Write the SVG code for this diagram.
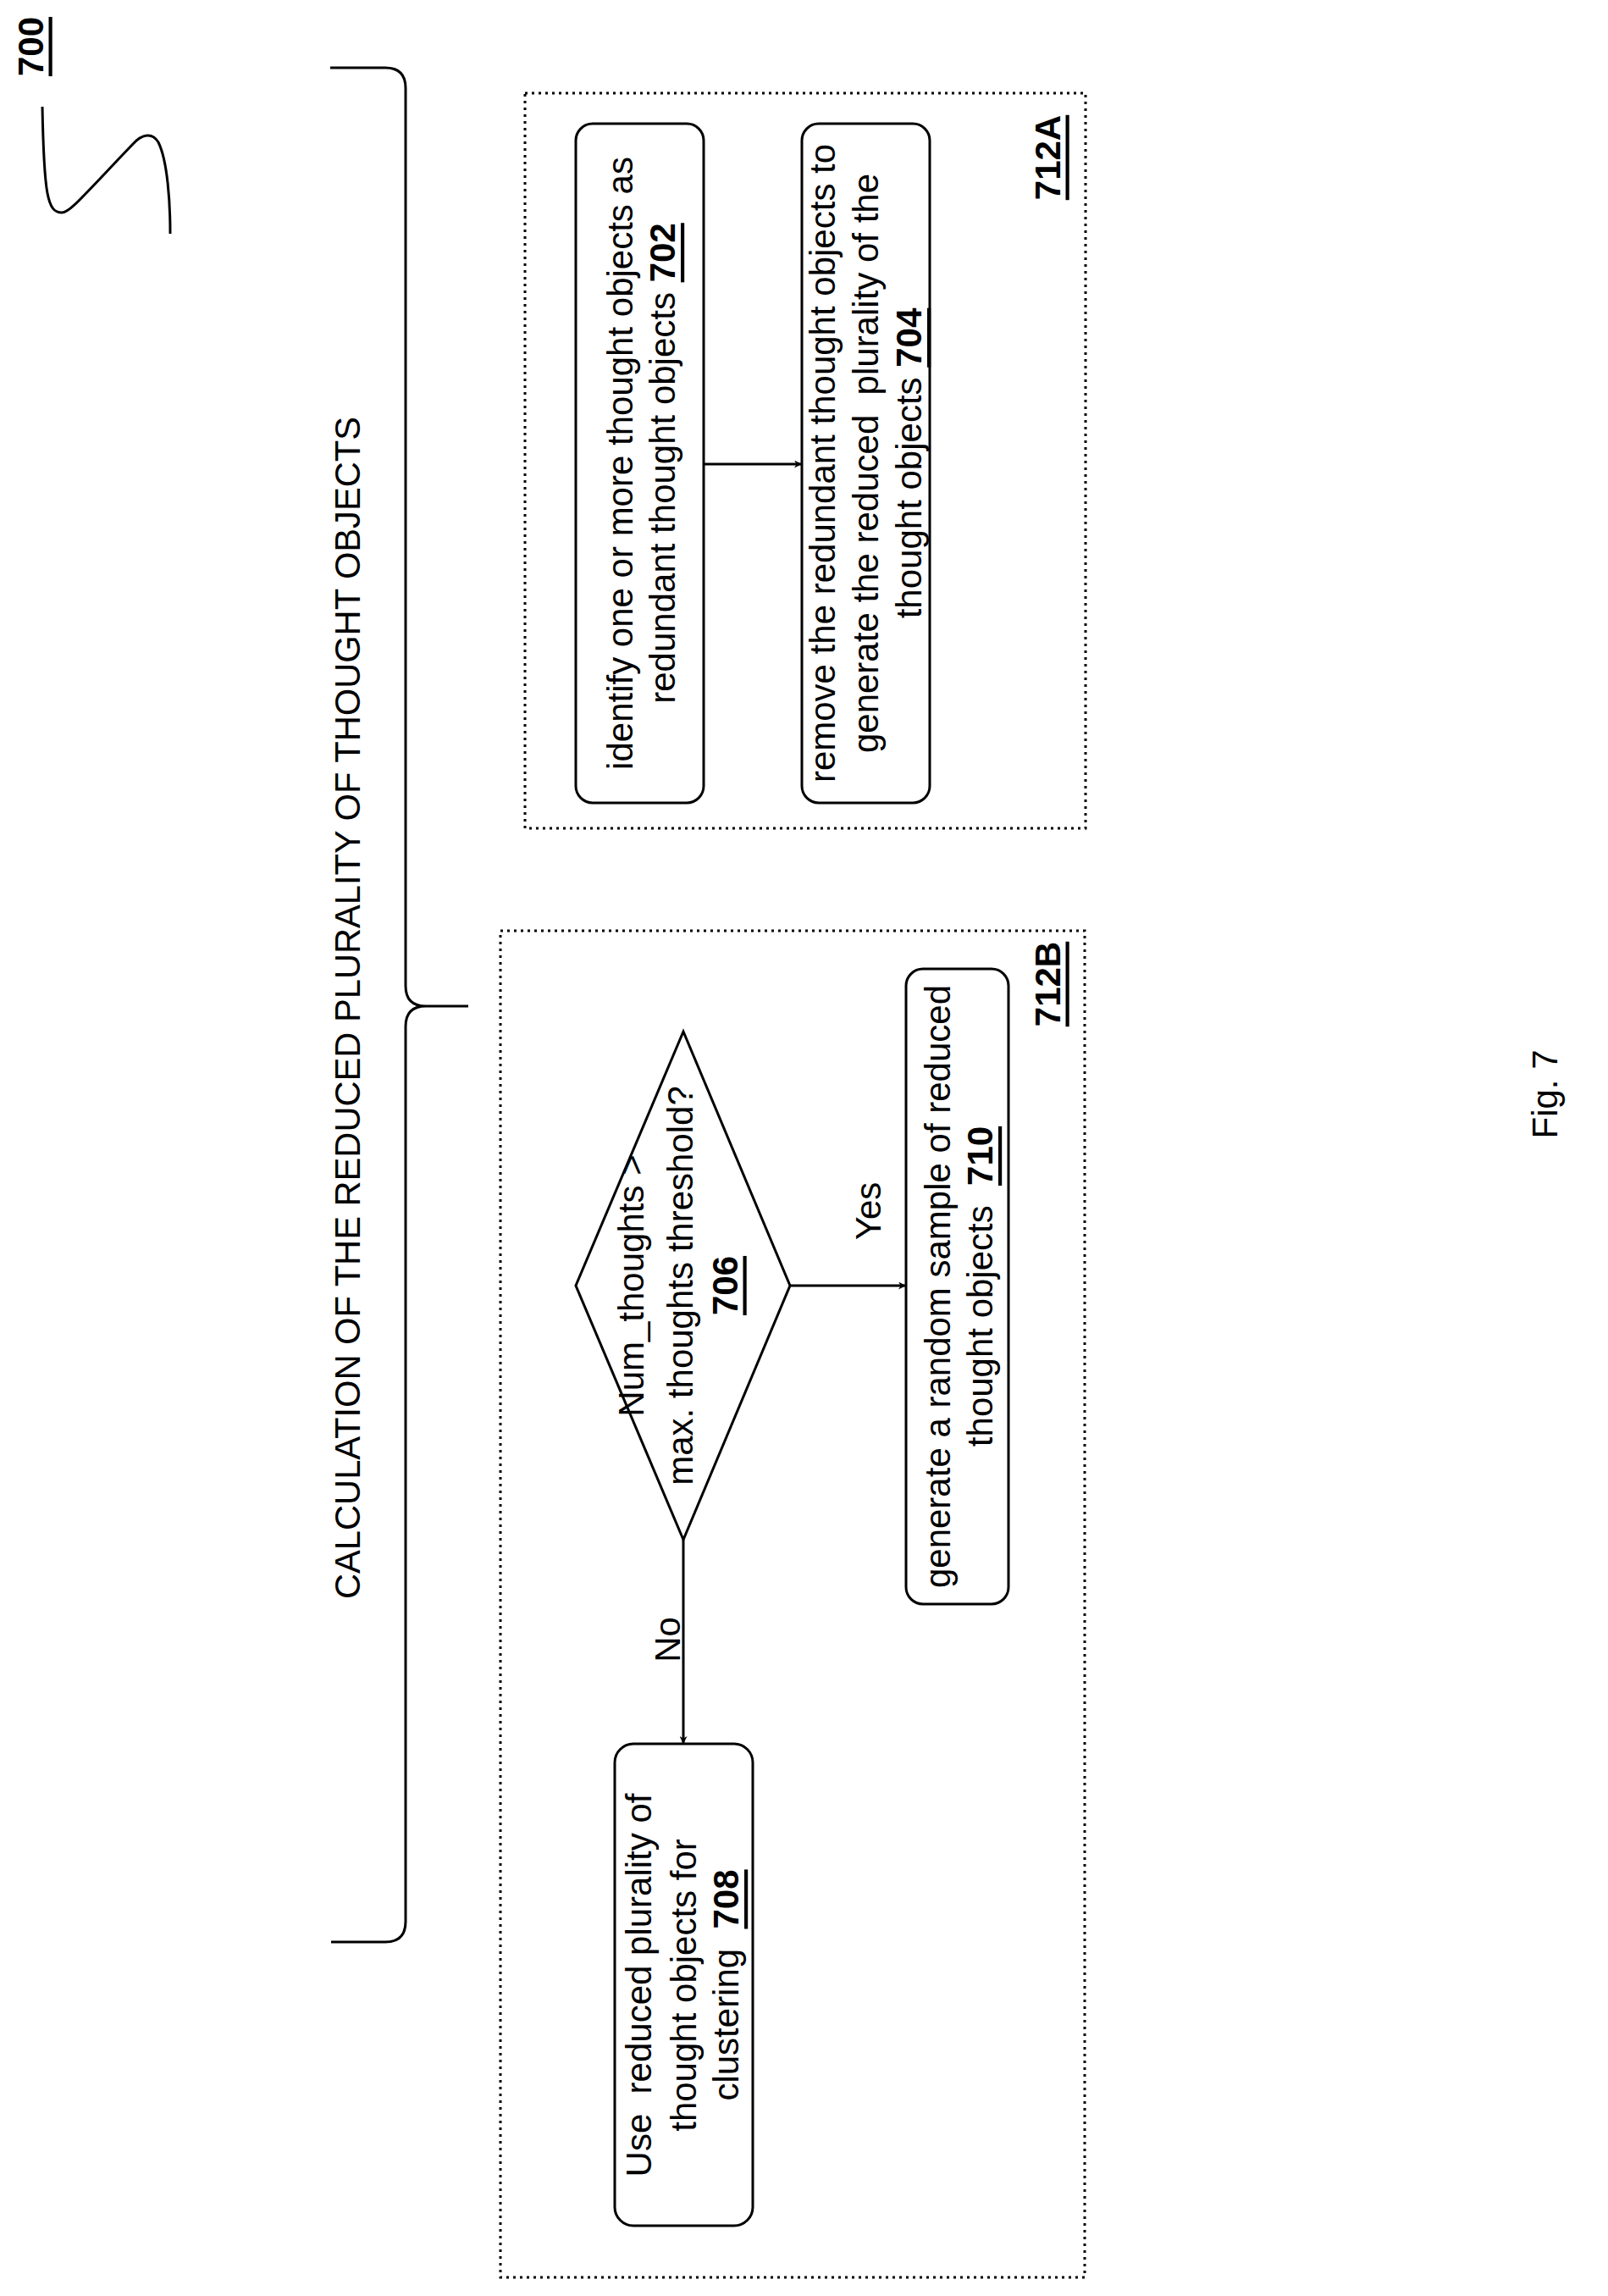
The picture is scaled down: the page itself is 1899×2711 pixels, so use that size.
<svg xmlns="http://www.w3.org/2000/svg" width="1899" height="2711" viewBox="0 0 1899 2711">
<defs>
<style>
text{font-family:"Liberation Sans",Arial,sans-serif;font-size:42px;fill:#000}
.b{font-weight:bold;text-decoration:underline}
.box{fill:#fff;stroke:#000;stroke-width:3}
.dot{fill:none;stroke:#000;stroke-width:3;stroke-dasharray:3 5}
.ln{fill:none;stroke:#000;stroke-width:3}
</style>
<marker id="ar" viewBox="0 0 10 10" refX="10" refY="5" markerWidth="9" markerHeight="9" markerUnits="userSpaceOnUse" orient="auto">
<path d="M0,0 L10,5 L0,10 L3,5 z" fill="#000"/>
</marker>
</defs>
<rect width="1899" height="2711" fill="#fff"/>
<g id="label700"><text class="b" text-anchor="middle" dominant-baseline="central" font-size="38" transform="translate(36,55) rotate(-90)">700</text></g>
<path class="ln" d="M50,126 C52,230 56,251 73,251 C82,251 92,238 157,170 C168,158 180,156 187,168 C198,190 201,240 201,276"/>
<path class="ln" d="M390,80 H455 Q479,80 479,104 V1164 Q479,1188 503,1188 H553 M503,1188 Q479,1188 479,1212 V2269 Q479,2293 455,2293 H391"/>
<text text-anchor="middle" dominant-baseline="central" font-size="41" textLength="1396" lengthAdjust="spacingAndGlyphs" transform="translate(410,1190) rotate(-90)">CALCULATION OF THE REDUCED PLURALITY OF THOUGHT OBJECTS</text>
<g id="group712A">
<rect class="dot" x="620" y="110" width="662" height="868"/>
<text class="b" text-anchor="middle" dominant-baseline="central" font-size="40" transform="translate(1237,186) rotate(-90)">712A</text>
</g>
<g id="group712B">
<rect class="dot" x="591" y="1099" width="690" height="1590"/>
<text class="b" text-anchor="middle" dominant-baseline="central" font-size="40" transform="translate(1237,1162) rotate(-90)">712B</text>
</g>
<g id="n702">
<rect class="box" x="680" y="146" width="151" height="802" rx="20"/>
<g transform="translate(756,547) rotate(-90)" text-anchor="middle" dominant-baseline="central">
<text y="-24" dominant-baseline="central">identify one or more thought objects as</text>
<text y="26" dominant-baseline="central">redundant thought objects <tspan class="b">702</tspan></text>
</g>
</g>
<g id="n704">
<rect class="box" x="947" y="146" width="151" height="802" rx="20"/>
<g transform="translate(1022,547) rotate(-90)" text-anchor="middle">
<text y="-51" dominant-baseline="central">remove the redundant thought objects to</text>
<text y="0" dominant-baseline="central" xml:space="preserve">generate the reduced  plurality of the</text>
<text y="51" dominant-baseline="central">thought objects <tspan class="b">704</tspan></text>
</g>
</g>
<g id="n706">
<polygon class="box" points="807,1218 933,1518 807,1818 680,1518"/>
<g transform="translate(807,1518) rotate(-90)" text-anchor="middle">
<text y="-62" dominant-baseline="central">Num_thoughts &gt;</text>
<text y="-4" dominant-baseline="central">max. thoughts threshold?</text>
<text y="49" dominant-baseline="central" class="b">706</text>
</g>
</g>
<g id="n710">
<rect class="box" x="1070" y="1144" width="121" height="750" rx="20"/>
<g transform="translate(1131,1519) rotate(-90)" text-anchor="middle">
<text y="-24" dominant-baseline="central">generate a random sample of reduced</text>
<text y="26" dominant-baseline="central" xml:space="preserve">thought objects  <tspan class="b">710</tspan></text>
</g>
</g>
<g id="n708">
<rect class="box" x="726" y="2059" width="163" height="569" rx="22"/>
<g transform="translate(807,2344) rotate(-90)" text-anchor="middle">
<text y="-53" dominant-baseline="central" xml:space="preserve">Use  reduced plurality of</text>
<text y="0" dominant-baseline="central">thought objects for</text>
<text y="50" dominant-baseline="central" xml:space="preserve">clustering  <tspan class="b">708</tspan></text>
</g>
</g>
<g id="connectors">
<line class="ln" x1="831" y1="548" x2="947" y2="548" marker-end="url(#ar)"/>
<line class="ln" x1="933" y1="1518" x2="1070" y2="1518" marker-end="url(#ar)"/>
<line class="ln" x1="807" y1="1818" x2="807" y2="2059" marker-end="url(#ar)"/>
<text text-anchor="middle" dominant-baseline="central" transform="translate(1025,1430) rotate(-90)">Yes</text>
<text text-anchor="middle" dominant-baseline="central" transform="translate(788,1936) rotate(-90)">No</text>
</g>
<text text-anchor="middle" dominant-baseline="central" font-size="72" transform="translate(1824,1292) rotate(-90)">Fig. 7</text>
</svg>
